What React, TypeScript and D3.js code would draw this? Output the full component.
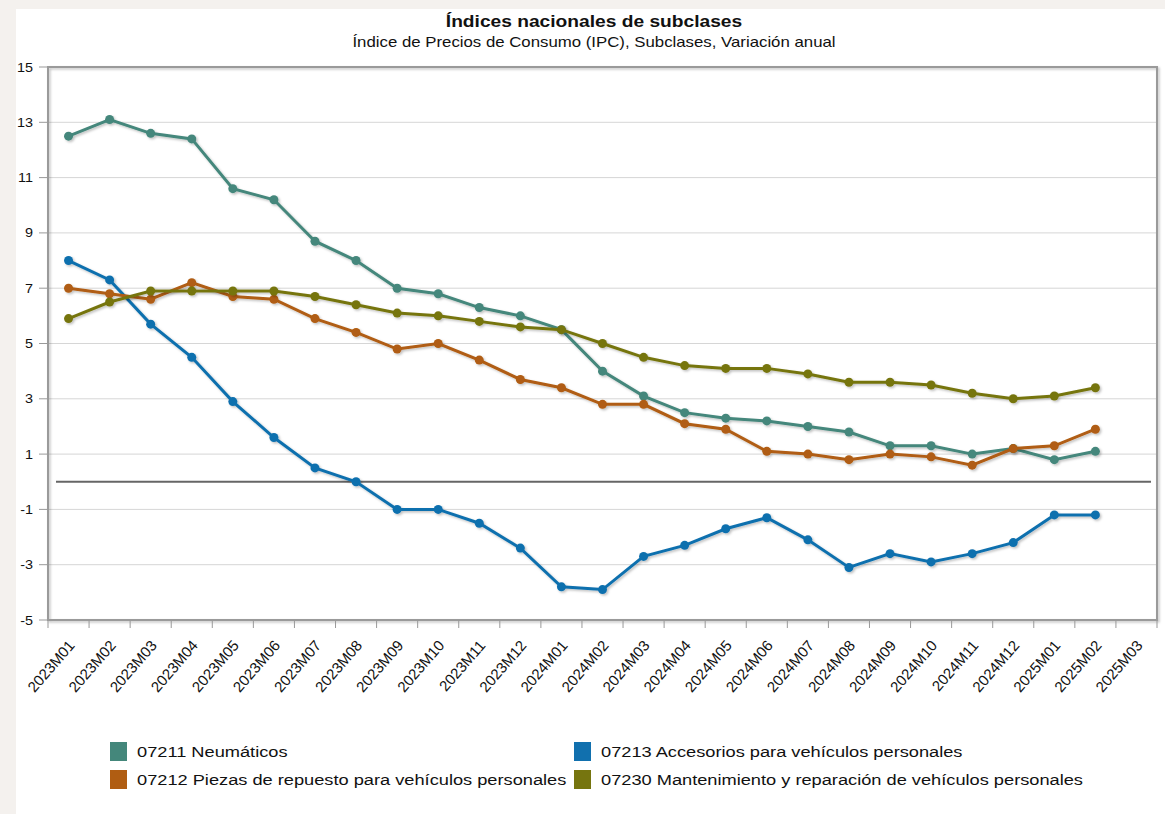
import React from "react";
import * as d3 from "d3";

const width = 1165;
const height = 814;
const margin = { top: 67, right: 8, bottom: 194, left: 48 };

const categories = [
  "2023M01", "2023M02", "2023M03", "2023M04", "2023M05", "2023M06",
  "2023M07", "2023M08", "2023M09", "2023M10", "2023M11", "2023M12",
  "2024M01", "2024M02", "2024M03", "2024M04", "2024M05", "2024M06",
  "2024M07", "2024M08", "2024M09", "2024M10", "2024M11", "2024M12",
  "2025M01", "2025M02", "2025M03",
];

const yTicks = [15, 13, 11, 9, 7, 5, 3, 1, -1, -3, -5];

// 2025M03 has no value yet
const neumaticos = [
  12.5, 13.1, 12.6, 12.4, 10.6, 10.2, 8.7, 8.0, 7.0, 6.8, 6.3, 6.0,
  5.5, 4.0, 3.1, 2.5, 2.3, 2.2, 2.0, 1.8, 1.3, 1.3, 1.0, 1.2,
  0.8, 1.1,
];
const accesorios = [
  8.0, 7.3, 5.7, 4.5, 2.9, 1.6, 0.5, 0.0, -1.0, -1.0, -1.5, -2.4,
  -3.8, -3.9, -2.7, -2.3, -1.7, -1.3, -2.1, -3.1, -2.6, -2.9, -2.6, -2.2,
  -1.2, -1.2,
];
const piezas = [
  7.0, 6.8, 6.6, 7.2, 6.7, 6.6, 5.9, 5.4, 4.8, 5.0, 4.4, 3.7,
  3.4, 2.8, 2.8, 2.1, 1.9, 1.1, 1.0, 0.8, 1.0, 0.9, 0.6, 1.2,
  1.3, 1.9,
];
const mantenimiento = [
  5.9, 6.5, 6.9, 6.9, 6.9, 6.9, 6.7, 6.4, 6.1, 6.0, 5.8, 5.6,
  5.5, 5.0, 4.5, 4.2, 4.1, 4.1, 3.9, 3.6, 3.6, 3.5, 3.2, 3.0,
  3.1, 3.4,
];

const seriesNames = [
  "07211 Neumáticos",
  "07213 Accesorios para vehículos personales",
  "07212 Piezas de repuesto para vehículos personales",
  "07230 Mantenimiento y reparación de vehículos personales",
];
const seriesColors = ["#44877b", "#1170ae", "#b05d12", "#76750f"];
const seriesValues = [neumaticos, accesorios, piezas, mantenimiento];

const FONT = "Liberation Sans, Arial, Helvetica, sans-serif";
const SX = 1.2; // the picture's text looks horizontally stretched

export default function App() {
  const x = d3
    .scaleBand()
    .domain(categories)
    .range([margin.left, width - margin.right])
    .padding(0);
  const y = d3
    .scaleLinear()
    .domain([-5, 15])
    .range([height - margin.bottom, margin.top]);

  const cx = (c) => x(c) + x.bandwidth() / 2;
  const line = d3
    .line()
    .x((d) => cx(d.cat))
    .y((d) => y(d.v));

  const plotL = margin.left;
  const plotR = width - margin.right;
  const plotT = margin.top;
  const plotB = height - margin.bottom;

  // legend: two columns, two rows (order as in the picture)
  const legendPos = [
    { x: 110, y: 742 },
    { x: 574, y: 742 },
    { x: 110, y: 770 },
    { x: 574, y: 770 },
  ];

  return (
    <svg
      width={width}
      height={height}
      style={{ position: "absolute", left: 0, top: 0, fontFamily: FONT }}
    >
      <defs>
        <filter id="shadow" x="-5%" y="-5%" width="110%" height="110%">
          <feDropShadow dx="1.5" dy="1.5" stdDeviation="1" floodColor="#000" floodOpacity="0.25" />
        </filter>
      </defs>
      <rect x={0} y={0} width={width} height={height} fill="#f4f1ee" />
      <rect x={16} y={9} width={width - 16} height={height - 9} fill="#fff" />

      {/* title */}
      <text
        transform={`translate(594,27) scale(${SX},1)`}
        textAnchor="middle"
        fontSize={16}
        fontWeight="bold"
        fill="#111"
      >
        Índices nacionales de subclases
      </text>
      <text
        transform={`translate(594,47) scale(${SX},1)`}
        textAnchor="middle"
        fontSize={14}
        fill="#111"
      >
        Índice de Precios de Consumo (IPC), Subclases, Variación anual
      </text>

      {/* grid */}
      {yTicks.map((t) => (
        <g key={t}>
          {t !== 15 && t !== -5 && (
            <line x1={plotL} x2={plotR} y1={y(t)} y2={y(t)} stroke="#d6d6d6" strokeWidth={1} />
          )}
          <line x1={plotL - 9} x2={plotL} y1={y(t)} y2={y(t)} stroke="#999" strokeWidth={1} />
          <text
            transform={`translate(33,${y(t) + 4.5}) scale(${SX},1)`}
            textAnchor="end"
            fontSize={12}
            fill="#111"
          >
            {t}
          </text>
        </g>
      ))}

      {/* frame */}
      <rect
        x={plotL}
        y={plotT}
        width={plotR - plotL}
        height={plotB - plotT}
        fill="none"
        stroke="#9a9a9a"
        strokeWidth={2}
        filter="url(#shadow)"
      />

      {/* x ticks & labels */}
      {categories.map((c, i) => (
        <g key={c}>
          <line x1={x(c)} x2={x(c)} y1={plotB} y2={plotB + 8} stroke="#999" strokeWidth={1} />
          {i === categories.length - 1 && (
            <line x1={plotR} x2={plotR} y1={plotB} y2={plotB + 8} stroke="#999" strokeWidth={1} />
          )}
          <text
            transform={`translate(${cx(c) + 7},${plotB + 26}) rotate(-49)`}
            textAnchor="end"
            fontSize={15}
            fill="#111"
          >
            {c}
          </text>
        </g>
      ))}

      {/* zero line */}
      <line x1={plotL + 8} x2={plotR - 6} y1={y(0)} y2={y(0)} stroke="#666" strokeWidth={2} />

      {/* series */}
      {seriesValues.map((vals, si) => {
        const pts = vals.map((v, i) => ({ cat: categories[i], v }));
        return (
          <g key={si} filter="url(#shadow)">
            <path d={line(pts)} fill="none" stroke={seriesColors[si]} strokeWidth={3} />
            {pts.map((p, i) => (
              <circle key={i} cx={cx(p.cat)} cy={y(p.v)} r={4.5} fill={seriesColors[si]} />
            ))}
          </g>
        );
      })}

      {/* legend */}
      {seriesNames.map((name, i) => (
        <g key={name}>
          <rect x={legendPos[i].x} y={legendPos[i].y} width={17} height={19} fill={seriesColors[i]} />
          <text
            transform={`translate(${legendPos[i].x + 27},${legendPos[i].y + 15}) scale(${SX},1)`}
            fontSize={15.2}
            fill="#111"
          >
            {name}
          </text>
        </g>
      ))}
    </svg>
  );
}
